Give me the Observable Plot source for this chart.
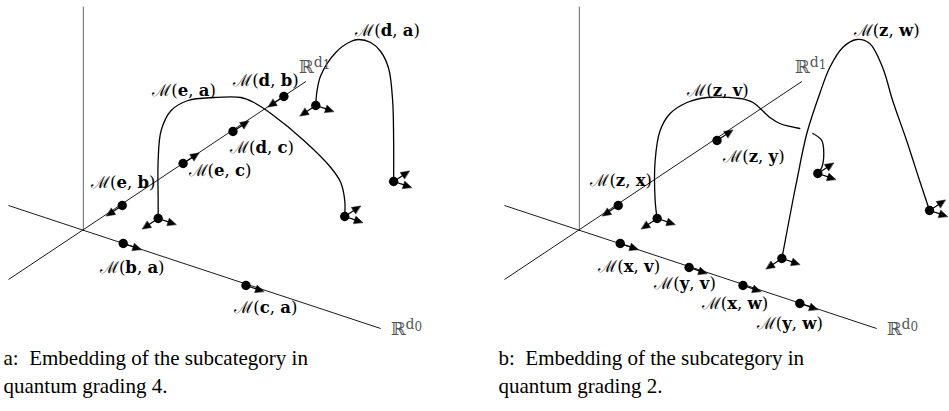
<!DOCTYPE html>
<html>
<head>
<meta charset="utf-8">
<script src="https://cdn.jsdelivr.net/npm/d3@7"></script>
<script src="https://cdn.jsdelivr.net/npm/@observablehq/plot@0.6"></script>
<style>
html,body{margin:0;padding:0;background:#fff;}
#chart svg{display:block;}
</style>
</head>
<body>
<div id="chart"></div>
<script>
// ---------------- data (plane coordinates: origin where the axes cross, y up) ----------------
const panels = ["a", "b"];
const captionsText = [
  "a:  Embedding of the subcategory in\nquantum grading 4.",
  "b:  Embedding of the subcategory in\nquantum grading 2."
];

// the three drawn axes, shared by both panels: [name, x1, y1, x2, y2]
const axes = [
  ["vertical", 0, 0, 0, 224],
  ["d0", -75, 25, 298, -98],
  ["d1", -75, -49, 223, 149]
];
// axis names ℝ^{d_i}: [index, x, y]
const axisLabels = [["0", 308, -99], ["1", 216, 163]];

// ---- panel a ----
const dotsA = [[201,134],[150,99],[100,67],[39,25],[40,-13],[163,-55],[75,12],[262,14],[233,125],[311,49]];
// arrows: [x, y, axis direction, sign]
const arrowsA = [
  [201,134,"d1",-1],[150,99,"d1",1],[100,67,"d1",1],[39,25,"d1",-1],
  [40,-13,"d0",1],[163,-55,"d0",1],
  [75,12,"d1",-1],[75,12,"d0",1],[262,14,"d1",1],[262,14,"d0",1],
  [233,125,"d1",-1],[233,125,"d0",1],[311,49,"d1",1],[311,49,"d0",1]
];
const curvesA = [
  [[75,12],[75,30],[75,70],[78,100],[88,120],[105,130],[131,133],[158,133],[171,128],[188,117],[221,90],[248,63],[258,48],[262,30],[262,14]],
  [[233,125],[234,138],[238,155],[253,178],[268,189],[276,191],[288,188],[298,179],[306,162],[310,130],[311,90],[311,49]]
];
// labels ℳ(p, q): [p, q, x, y]
const labelsA = [["d","a",305,200],["d","b",183,150],["e","a",101,140],["d","c",179,83],["e","c",137,60],["e","b",40,48],["b","a",49,-37],["c","a",183,-77]];

// ---- panel b ----
const dotsB = [[138,90],[39,25],[41,-13],[110,-37],[164,-55],[221,-73],[78,12],[239,57],[203,-28],[351,20]];
const arrowsB = [
  [138,90,"d1",1],[39,25,"d1",-1],
  [41,-13,"d0",1],[110,-37,"d0",1],[164,-55,"d0",1],[221,-73,"d0",1],
  [78,12,"d1",-1],[78,12,"d0",1],[239,57,"d1",1],[239,57,"d0",1],
  [203,-28,"d1",-1],[203,-28,"d0",1],[351,20,"d1",1],[351,20,"d0",1]
];
const curvesB = [
  [[78,12],[76,30],[76,70],[81,100],[91,117],[108,128],[128,133],[151,133],[161,132],[174,128],[191,113],[201,107],[221,102]],
  [[234,97],[243,90],[245,77],[243,63],[239,57]],
  [[203,-28],[214,30],[218,50],[228,97],[241,137],[251,163],[264,183],[278,191],[291,187],[304,163],[314,130],[328,90],[341,50],[351,20]]
];
const labelsB = [["z","w",308,200],["z","v",139,140],["z","y",175,74],["z","x",42,50],["x","v",50,-36],["y","v",106,-53],["x","w",156,-73],["y","w",211,-93]];

// ---------------- build tables ----------------
const unit = (x, y) => { const n = Math.hypot(x, y); return [x / n, y / n]; };
const dirs = {d0: unit(axes[1][3], axes[1][4]), d1: unit(axes[2][3], axes[2][4])};
const ARROW = 19, HEAD = 8.5, HALF = 3.8;

const axisRows = axes.map(([name, x1, y1, x2, y2]) => ({name, x1, y1, x2, y2}));
const dots = [...dotsA.map(([x, y]) => ({panel: "a", x, y})), ...dotsB.map(([x, y]) => ({panel: "b", x, y}))];
const arrowRows = [...arrowsA.map(r => ["a", ...r]), ...arrowsB.map(r => ["b", ...r])];
const shafts = [], heads = [];
arrowRows.forEach(([panel, x, y, axis, s], i) => {
  const [ux, uy] = dirs[axis].map(v => v * s);
  const tx = x + ARROW * ux, ty = y + ARROW * uy;
  const bx = tx - HEAD * ux, by = ty - HEAD * uy;
  shafts.push({panel, x1: x, y1: y, x2: bx + 0.5 * ux, y2: by + 0.5 * uy});
  const px = -uy, py = ux;
  heads.push({panel, id: i, x: tx, y: ty});
  heads.push({panel, id: i, x: bx + HALF * px, y: by + HALF * py});
  heads.push({panel, id: i, x: bx - HALF * px, y: by - HALF * py});
});
const curveRows = [];
[["a", curvesA], ["b", curvesB]].forEach(([panel, cs]) =>
  cs.forEach((pts, j) => pts.forEach(([x, y]) => curveRows.push({panel, id: panel + j, x, y}))));
const labels = [...labelsA.map(([p, q, x, y]) => ({panel: "a", text: `ℳ(${p}, ${q})`, x, y})),
                ...labelsB.map(([p, q, x, y]) => ({panel: "b", text: `ℳ(${p}, ${q})`, x, y}))];
const axisLabelRows = axisLabels.map(([i, x, y]) => ({text: "ℝd" + i, x, y}));
const captions = panels.map((panel, i) => ({panel, text: captionsText[i]}));

const serif = "'DejaVu Serif', 'Liberation Serif', serif";
const roman = "'Liberation Serif', 'DejaVu Serif', serif";

const svg = Plot.plot({
  width: 949,
  height: 411,
  margin: 0,
  style: {background: "white", color: "black"},
  fx: {domain: panels, paddingInner: 0.0905, paddingOuter: 0, axis: null, label: null},
  x: {domain: [-82, 370], axis: null},
  y: {domain: [-181, 230], axis: null},
  marks: [
    Plot.link(axisRows, {x1: "x1", y1: "y1", x2: "x2", y2: "y2",
      stroke: d => d.name === "vertical" ? "#555" : "#000", strokeWidth: 0.9}),
    Plot.line(curveRows, {x: "x", y: "y", z: "id", fx: "panel", curve: "catmull-rom",
      stroke: "black", strokeWidth: 1.3}),
    Plot.link(shafts, {x1: "x1", y1: "y1", x2: "x2", y2: "y2", fx: "panel", stroke: "black", strokeWidth: 1.2}),
    Plot.line(heads, {x: "x", y: "y", z: "id", fx: "panel", fill: "black", stroke: "black",
      strokeWidth: 0.5, curve: "linear-closed"}),
    Plot.dot(dots, {x: "x", y: "y", fx: "panel", r: 4.7, fill: "black", stroke: "none"}),
    Plot.text(labels, {x: "x", y: "y", fx: "panel", text: "text", fontSize: 16.5,
      fontFamily: serif, textAnchor: "middle", lineAnchor: "middle", fill: "black"}),
    Plot.text(axisLabelRows, {x: "x", y: "y", text: "text", fontSize: 18,
      fontFamily: serif, textAnchor: "start", lineAnchor: "middle", fill: "#555"}),
    Plot.text(captions.filter(d => d.panel === "a"), {fx: "panel", text: "text", frameAnchor: "top-left",
      dx: 2, dy: 345, fontSize: 21, lineHeight: 1.33, fontFamily: roman, textAnchor: "start", lineAnchor: "top", fill: "black"}),
    Plot.text(captions.filter(d => d.panel === "b"), {fx: "panel", text: "text", frameAnchor: "top-left",
      dx: 1, dy: 345, fontSize: 21, lineHeight: 1.33, fontFamily: roman, textAnchor: "start", lineAnchor: "top", fill: "black"})
  ]
});

// rich text: bold object names and ℝ^{d_i} superscripts
d3.select(svg).selectAll("text").each(function () {
  const t = this.textContent;
  const sel = d3.select(this);
  let m = /^ℳ\((.), (.)\)$/.exec(t);
  if (m) {
    sel.text(null);
    sel.append("tspan").text("ℳ(");
    sel.append("tspan").attr("font-weight", "bold").text(m[1]);
    sel.append("tspan").text(", ");
    sel.append("tspan").attr("font-weight", "bold").text(m[2]);
    sel.append("tspan").text(")");
    return;
  }
  m = /^ℝd(\d)$/.exec(t);
  if (m) {
    sel.text(null);
    sel.append("tspan").text("ℝ");
    sel.append("tspan").attr("dy", "-0.45em").attr("font-size", 14).text("d");
    sel.append("tspan").attr("dy", "0.2em").attr("font-size", 12).text(m[1]);
  }
});
d3.select(svg).selectAll("text").style("white-space", "pre");

document.getElementById("chart").appendChild(svg);
</script>
</body>
</html>
